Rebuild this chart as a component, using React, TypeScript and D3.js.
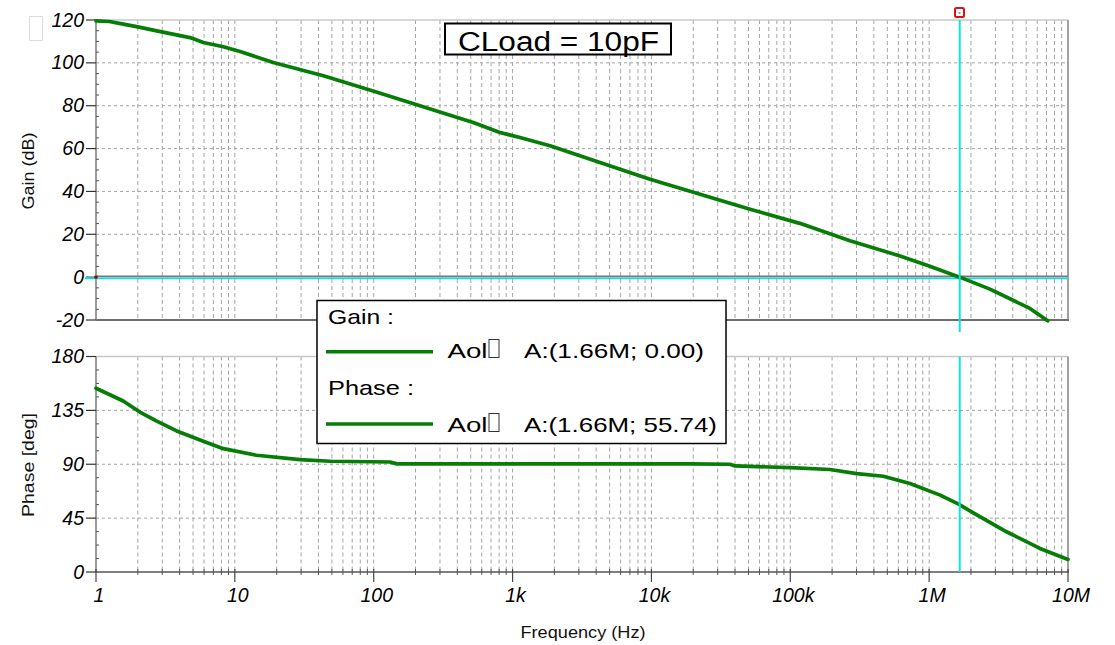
import React from "react";
import * as d3 from "d3";

// ---- Data ----
const gainFreq = [1, 1.25, 1.57, 2, 2.74, 3.5, 4.75, 5.93, 8.26, 10.9, 18.9, 43.4, 99, 227, 521, 811, 1130, 1860, 4260, 9770, 22400, 51300, 117000, 269000, 617000, 1000000, 1660000, 2740000, 5320000, 7140000];
const gainDb = [119.6, 119.3, 118.1, 116.8, 114.9, 113.5, 111.8, 109.5, 107.5, 105.3, 100.2, 94, 86.9, 79.5, 72.2, 67.5, 65.2, 61.3, 53.5, 45.7, 38.7, 31.7, 25.1, 17, 9.9, 5.2, 0, -5.6, -14.6, -20.4];

const phaseFreq = [1, 1.57, 2.07, 2.74, 3.81, 5.93, 8.26, 14.3, 29.5, 48.6, 131, 147, 19000, 36800, 40000, 99500, 193000, 301000, 468000, 728000, 1200000, 1630000, 2080000, 3610000, 6280000, 10000000];
const phaseDeg = [153.5, 142.8, 133.6, 126.1, 117.8, 109.2, 103, 97.5, 93.9, 92.5, 91.9, 90.3, 90.3, 90, 88.6, 87.2, 85.6, 82.2, 80, 73.9, 64.2, 56.7, 49.4, 33.6, 19.7, 10.5];

const freqTicks = [1, 10, 100, 1000, 10000, 100000, 1000000, 10000000];
const freqLabels = ["1", "10", "100", "1k", "10k", "100k", "1M", "10M"];
const gainTicks = [120, 100, 80, 60, 40, 20, 0, -20];
const phaseTicks = [180, 135, 90, 45, 0];

const cursorFreq = 1660000;
const titleText = "CLoad = 10pF";
const legendGainValue = "A:(1.66M; 0.00)";
const legendPhaseValue = "A:(1.66M; 55.74)";

const FONT = "'Liberation Sans', Arial, sans-serif";
const GREEN = "#067d06";
const CYAN = "#12e0e6";
const GRID = "#a4a4a4";

export default function App() {
  const x = d3.scaleLog().domain([1, 1e7]).range([96, 1068]);
  const yG = d3.scaleLinear().domain([-20, 120]).range([320, 20]);
  const yP = d3.scaleLinear().domain([0, 180]).range([572, 356.5]);

  const minorFreqs: number[] = [];
  for (let d = 1; d < 1e7; d *= 10) {
    for (let k = 2; k <= 9; k++) minorFreqs.push(d * k);
  }
  const allGridFreqs = [...minorFreqs, ...freqTicks.slice(1, -1)];

  const gainLine = d3
    .line<number>()
    .x((_, i) => x(gainFreq[i]))
    .y((d) => yG(d))(gainDb) as string;
  const phaseLine = d3
    .line<number>()
    .x((_, i) => x(phaseFreq[i]))
    .y((d) => yP(d))(phaseDeg) as string;

  const gainMinor = d3.range(-20, 121, 5).filter((v) => v % 20 !== 0);
  const phaseMinor = d3.range(0, 181, 11.25).filter((v) => Math.abs(v % 45) > 0.01);

  const cx = x(cursorFreq);
  const X0 = x(1);
  const X1 = x(1e7);

  return (
    <svg
      width={1115}
      height={645}
      style={{ position: "absolute", left: 0, top: 0, background: "#fff" }}
      fontFamily={FONT}
    >
      <rect x={0} y={0} width={1115} height={645} fill="#fff" />
      {/* faint top-left box */}
      <rect x={29.5} y={16.5} width={13} height={24} fill="none" stroke="#dcdcdc" strokeWidth={1} />

      {/* ===== Gain panel ===== */}
      {allGridFreqs.map((f, i) => (
        <line key={"gv" + i} x1={x(f)} x2={x(f)} y1={yG(120)} y2={yG(-20)} stroke={GRID} strokeDasharray="4,3" strokeWidth={1} />
      ))}
      {gainTicks.filter((v) => v !== 120 && v !== -20 && v !== 0).map((v) => (
        <line key={"gh" + v} x1={X0} x2={X1} y1={yG(v)} y2={yG(v)} stroke={GRID} strokeDasharray="3,3" strokeWidth={1} />
      ))}
      <line x1={X0} x2={X1} y1={yG(120)} y2={yG(120)} stroke="#c8c8c8" strokeWidth={1.5} />
      <line x1={X1} x2={X1} y1={yG(120)} y2={yG(-20)} stroke="#a0a0a0" strokeWidth={2} />
      <line x1={X0} x2={X1 + 1} y1={yG(-20)} y2={yG(-20)} stroke="#6e6e6e" strokeWidth={2} />
      <line x1={X0} x2={X0} y1={yG(120)} y2={yG(-20)} stroke="#7a7a7a" strokeWidth={1.5} />
      {gainTicks.map((v) => (
        <g key={"gt" + v}>
          <line x1={86} x2={X0} y1={yG(v)} y2={yG(v)} stroke="#333" strokeWidth={1.2} />
          <text x={84} y={yG(v) + 6.5} textAnchor="end" fontSize={19.5} fontStyle="italic" fill="#000">
            {v}
          </text>
        </g>
      ))}
      {gainMinor.map((v) => (
        <line key={"gm" + v} x1={X0} x2={X0 + 3} y1={yG(v)} y2={yG(v)} stroke="#555" strokeWidth={1} />
      ))}
      {/* 0 dB reference + horizontal cursor */}
      <line x1={X0} x2={X1} y1={yG(0) - 1} y2={yG(0) - 1} stroke="#9a6a6a" strokeWidth={1.5} />
      <line x1={85} x2={X1} y1={yG(0) + 1} y2={yG(0) + 1} stroke={CYAN} strokeWidth={2} />
      <rect x={X0 - 1.5} y={yG(0) - 1.5} width={3} height={3} fill="#8b0000" />
      <path d={gainLine} fill="none" stroke={GREEN} strokeWidth={3.7} strokeLinejoin="round" strokeLinecap="round" />
      <line x1={cx} x2={cx} y1={yG(120)} y2={332} stroke={CYAN} strokeWidth={2} />
      <rect x={955} y={8} width={9} height={9} rx={1.5} fill="#fff" stroke="#e01010" strokeWidth={2} />
      <rect x={958.5} y={12} width={2} height={2} fill="#999" />
      <text x={-171} y={34} transform="rotate(-90)" textAnchor="middle" fontSize={16} fill="#111" textLength={77} lengthAdjust="spacingAndGlyphs">
        Gain (dB)
      </text>

      {/* Title box */}
      <rect x={445} y={23.5} width={226} height={31} fill="#fff" stroke="#000" strokeWidth={2} />
      <text x={458} y={50.5} fontSize={27} fill="#000" textLength={201} lengthAdjust="spacingAndGlyphs">
        {titleText}
      </text>

      {/* ===== Phase panel ===== */}
      {allGridFreqs.map((f, i) => (
        <line key={"pv" + i} x1={x(f)} x2={x(f)} y1={yP(180)} y2={yP(0)} stroke={GRID} strokeDasharray="4,3" strokeWidth={1} />
      ))}
      {phaseTicks.filter((v) => v !== 180 && v !== 0).map((v) => (
        <line key={"ph" + v} x1={X0} x2={X1} y1={yP(v)} y2={yP(v)} stroke={GRID} strokeDasharray="3,3" strokeWidth={1} />
      ))}
      <line x1={X0} x2={X1} y1={yP(180)} y2={yP(180)} stroke="#c8c8c8" strokeWidth={1.5} />
      <line x1={X1} x2={X1} y1={yP(180)} y2={yP(0)} stroke="#a0a0a0" strokeWidth={2} />
      <line x1={X0} x2={X0} y1={yP(180)} y2={yP(0)} stroke="#7a7a7a" strokeWidth={1.5} />
      <line x1={X0} x2={X1 + 1} y1={yP(0)} y2={yP(0)} stroke="#555" strokeWidth={1.5} />
      {phaseTicks.map((v) => (
        <g key={"pt" + v}>
          <line x1={86} x2={X0} y1={yP(v)} y2={yP(v)} stroke="#333" strokeWidth={1.2} />
          <text x={84} y={yP(v) + 6.5} textAnchor="end" fontSize={19.5} fontStyle="italic" fill="#000">
            {v}
          </text>
        </g>
      ))}
      {phaseMinor.map((v) => (
        <line key={"pm" + v} x1={X0} x2={X0 + 3} y1={yP(v)} y2={yP(v)} stroke="#555" strokeWidth={1} />
      ))}
      {/* x axis ticks */}
      {minorFreqs.map((f, i) => (
        <line key={"xm" + i} x1={x(f)} x2={x(f)} y1={yP(0) - 3} y2={yP(0) + 3} stroke="#555" strokeWidth={1} />
      ))}
      {freqTicks.map((f, i) => (
        <g key={"xt" + i}>
          <line x1={x(f)} x2={x(f)} y1={yP(0) - 3} y2={yP(0) + 10} stroke="#444" strokeWidth={1.2} />
          <text x={x(f) + 3} y={602} textAnchor="middle" fontSize={19.5} fontStyle="italic" fill="#000">
            {freqLabels[i]}
          </text>
        </g>
      ))}
      <path d={phaseLine} fill="none" stroke={GREEN} strokeWidth={3.7} strokeLinejoin="round" strokeLinecap="round" />
      <line x1={cx} x2={cx} y1={yP(180)} y2={yP(0)} stroke={CYAN} strokeWidth={2} />
      <text x={-465} y={34} transform="rotate(-90)" textAnchor="middle" fontSize={16} fill="#111" textLength={104} lengthAdjust="spacingAndGlyphs">
        Phase [deg]
      </text>
      <text x={583} y={638} textAnchor="middle" fontSize={16.5} fill="#111" textLength={125} lengthAdjust="spacingAndGlyphs">
        Frequency (Hz)
      </text>

      {/* Legend */}
      <rect x={317} y={300.5} width={409} height={143} fill="#fff" stroke="#000" strokeWidth={1.5} />
      <text x={328} y={323.5} fontSize={21} fill="#000" textLength={66} lengthAdjust="spacingAndGlyphs">
        Gain :
      </text>
      <line x1={326} x2={433} y1={351.7} y2={351.7} stroke={GREEN} strokeWidth={3.5} />
      <text x={447.5} y={357.5} fontSize={21} fill="#000" textLength={40} lengthAdjust="spacingAndGlyphs">
        Aol
      </text>
      <rect x={489} y={339.5} width={10} height={18} fill="none" stroke="#333" strokeWidth={1} />
      <text x={524} y={357.5} fontSize={21} fill="#000" textLength={180} lengthAdjust="spacingAndGlyphs">
        {legendGainValue}
      </text>
      <text x={328} y={395} fontSize={21} fill="#000" textLength={86} lengthAdjust="spacingAndGlyphs">
        Phase :
      </text>
      <line x1={326} x2={433} y1={424} y2={424} stroke={GREEN} strokeWidth={3.5} />
      <text x={447.5} y={431.5} fontSize={21} fill="#000" textLength={40} lengthAdjust="spacingAndGlyphs">
        Aol
      </text>
      <rect x={489} y={413.5} width={10} height={18} fill="none" stroke="#333" strokeWidth={1} />
      <text x={524} y={431.5} fontSize={21} fill="#000" textLength={193} lengthAdjust="spacingAndGlyphs">
        {legendPhaseValue}
      </text>
    </svg>
  );
}
